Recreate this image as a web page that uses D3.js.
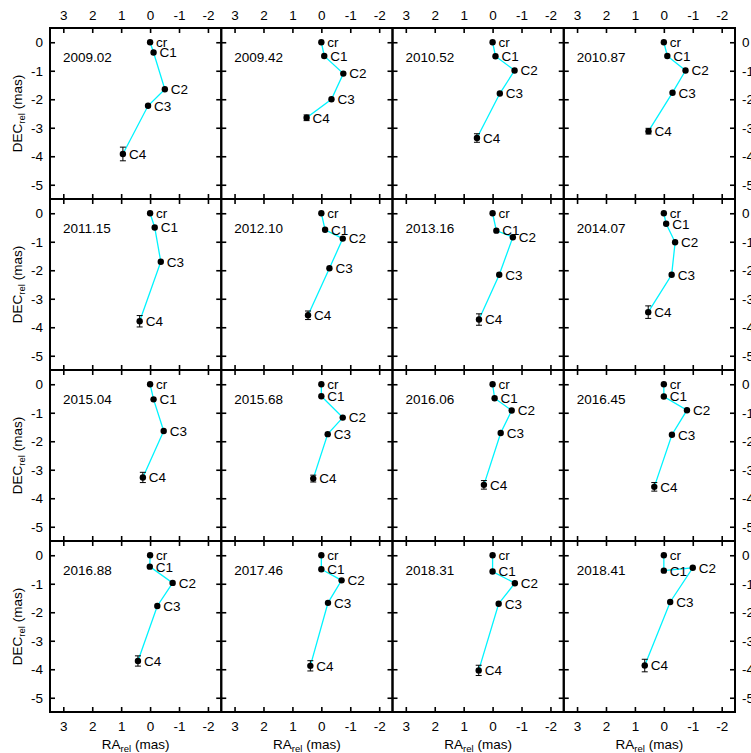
<!DOCTYPE html>
<html><head><meta charset="utf-8">
<script src="https://cdn.jsdelivr.net/npm/d3@7"></script>
<style>body{margin:0;background:#fff}svg{display:block}text{font-family:"Liberation Sans",Arial,Helvetica,sans-serif;fill:#000}</style>
</head><body><div id="chart"></div>
<script>
const epochs = ["2009.02","2009.42","2010.52","2010.87","2011.15","2012.10","2013.16","2014.07","2015.04","2015.68","2016.06","2016.45","2016.88","2017.46","2018.31","2018.41"];
const components = ["cr","C1","C2","C3","C4"];
const raValues = [
  [0,-0.12,-0.51,0.07,0.94],
  [0,-0.10,-0.76,-0.35,0.51],
  [0,-0.10,-0.76,-0.25,0.54],
  [0,-0.12,-0.75,-0.30,0.53],
  [0,-0.16,null,-0.37,0.36],
  [0,-0.13,-0.74,-0.28,0.46],
  [0,-0.13,-0.70,-0.23,0.47],
  [0,-0.08,-0.39,-0.27,0.54],
  [0,-0.12,null,-0.47,0.25],
  [0,0.00,-0.74,-0.22,0.28],
  [0,-0.07,-0.66,-0.28,0.30],
  [0,0.00,-0.80,-0.28,0.33],
  [0,0.01,-0.78,-0.25,0.42],
  [0,0.00,-0.70,-0.23,0.38],
  [0,0.00,-0.77,-0.21,0.48],
  [0,0.00,-1.00,-0.22,0.66]
];
const decValues = [
  [0,-0.36,-1.65,-2.23,-3.92],
  [0,-0.48,-1.10,-2.00,-2.65],
  [0,-0.49,-0.99,-1.80,-3.36],
  [0,-0.48,-0.99,-1.77,-3.12],
  [0,-0.50,null,-1.70,-3.79],
  [0,-0.58,-0.89,-1.93,-3.58],
  [0,-0.61,-0.84,-2.16,-3.73],
  [0,-0.37,-1.02,-2.16,-3.47],
  [0,-0.53,null,-1.64,-3.27],
  [0,-0.42,-1.17,-1.75,-3.31],
  [0,-0.49,-0.92,-1.71,-3.53],
  [0,-0.43,-0.91,-1.77,-3.60],
  [0,-0.40,-0.97,-1.78,-3.71],
  [0,-0.49,-0.88,-1.67,-3.88],
  [0,-0.57,-0.98,-1.70,-4.04],
  [0,-0.54,-0.44,-1.64,-3.87]
];
const c4DecErr = [0.24,0.10,0.15,0.10,0.20,0.15,0.20,0.22,0.18,0.12,0.15,0.15,0.18,0.18,0.18,0.22];
const c4RaErr  = [0.10,0.08,0.08,0.08,0.08,0.08,0.08,0.08,0.08,0.06,0.06,0.06,0.08,0.08,0.08,0.10];
const xTicks = [3,2,1,0,-1,-2];
const yTicks = [0,-1,-2,-3,-4,-5];

const W = 751, H = 753;
const mLeft = 50, mTop = 28, pw = 171.25, ph = 171, nCols = 4, nRows = 4;
const FS = 13.5;
const svg = d3.select("#chart").append("svg").attr("width", W).attr("height", H);

const x = d3.scaleLinear().domain([3.46, -2.46]).range([0, pw]);
const y = d3.scaleLinear().domain([0.5, -5.5]).range([0, ph]);

const fmt = d => String(d);

epochs.forEach((ep, i) => {
  const col = i % nCols, row = Math.floor(i / nCols);
  const g = svg.append("g").attr("transform", `translate(${mLeft + col*pw},${mTop + row*ph})`);

  const tl = 5;
  const axB = d3.axisBottom(x).tickValues(xTicks).tickSizeInner(-tl).tickSizeOuter(0).tickFormat(fmt);
  const axT = d3.axisTop(x).tickValues(xTicks).tickSizeInner(-tl).tickSizeOuter(0).tickFormat(fmt);
  const axL = d3.axisLeft(y).tickValues(yTicks).tickSizeInner(-tl).tickSizeOuter(0).tickFormat(fmt);
  const axR = d3.axisRight(y).tickValues(yTicks).tickSizeInner(-tl).tickSizeOuter(0).tickFormat(fmt);

  const styleAxis = (sel, showLabels) => {
    sel.select(".domain").remove();
    sel.selectAll(".tick line").attr("stroke", "#000").attr("stroke-width", 1.6);
    sel.selectAll(".tick text").attr("font-size", FS).attr("font-family", '"Liberation Sans",Arial,sans-serif').attr("fill", "#000");
    if (!showLabels) sel.selectAll(".tick text").remove();
  };
  const gB = g.append("g").attr("transform", `translate(0,${ph})`).call(axB);
  styleAxis(gB, row === nRows - 1);
  gB.selectAll(".tick text").attr("y", 9);
  const gT = g.append("g").call(axT);
  styleAxis(gT, row === 0);
  gT.selectAll(".tick text").attr("y", -8);
  const gL = g.append("g").call(axL);
  styleAxis(gL, col === 0);
  gL.selectAll(".tick text").attr("x", -7);
  const gR = g.append("g").attr("transform", `translate(${pw},0)`).call(axR);
  styleAxis(gR, col === nCols - 1);
  gR.selectAll(".tick text").attr("x", 7);

  g.append("rect").attr("x", 0).attr("y", 0).attr("width", pw).attr("height", ph)
    .attr("fill", "none").attr("stroke", "#000").attr("stroke-width", 2);

  g.append("text").attr("x", 13).attr("y", 34).attr("font-size", FS).text(ep);

  const pts = components.map((c, k) => ({name: c, ra: raValues[i][k], dec: decValues[i][k]}))
    .filter(p => p.ra !== null && p.dec !== null);

  g.append("path").datum(pts)
    .attr("d", d3.line().x(p => x(p.ra)).y(p => y(p.dec)))
    .attr("fill", "none").attr("stroke", "#00f4ff").attr("stroke-width", 1.3);

  const c4 = pts.find(p => p.name === "C4");
  const e = c4DecErr[i], ex = c4RaErr[i];
  const eb = g.append("g").attr("stroke", "#000").attr("stroke-width", 1);
  eb.append("line").attr("x1", x(c4.ra)).attr("x2", x(c4.ra)).attr("y1", y(c4.dec + e)).attr("y2", y(c4.dec - e));
  eb.append("line").attr("x1", x(c4.ra) - 3).attr("x2", x(c4.ra) + 3).attr("y1", y(c4.dec + e)).attr("y2", y(c4.dec + e));
  eb.append("line").attr("x1", x(c4.ra) - 3).attr("x2", x(c4.ra) + 3).attr("y1", y(c4.dec - e)).attr("y2", y(c4.dec - e));
  eb.append("line").attr("x1", x(c4.ra + ex)).attr("x2", x(c4.ra - ex)).attr("y1", y(c4.dec)).attr("y2", y(c4.dec)).attr("stroke-width", 1.5);

  g.selectAll("circle.pt").data(pts).enter().append("circle").attr("class", "pt")
    .attr("cx", p => x(p.ra)).attr("cy", p => y(p.dec)).attr("r", 3.2).attr("fill", "#000");

  g.selectAll("text.lbl").data(pts).enter().append("text").attr("class", "lbl")
    .attr("x", p => x(p.ra) + 6).attr("y", p => y(p.dec)).attr("dy", "0.36em")
    .attr("font-size", FS).text(p => p.name);

  if (col === 0) {
    const t = svg.append("text").attr("transform", `translate(22,${mTop + row*ph + ph/2}) rotate(-90)`)
      .attr("text-anchor", "middle").attr("font-size", FS);
    t.append("tspan").text("DEC");
    t.append("tspan").attr("font-size", 9.5).attr("dy", 3).text("rel");
    t.append("tspan").attr("dy", -3).text(" (mas)");
  }
  if (row === nRows - 1) {
    const t = svg.append("text").attr("x", mLeft + col*pw + pw/2).attr("y", 749)
      .attr("text-anchor", "middle").attr("font-size", FS);
    t.append("tspan").text("RA");
    t.append("tspan").attr("font-size", 9.5).attr("dy", 3).text("rel");
    t.append("tspan").attr("dy", -3).text(" (mas)");
  }
});
</script></body></html>
